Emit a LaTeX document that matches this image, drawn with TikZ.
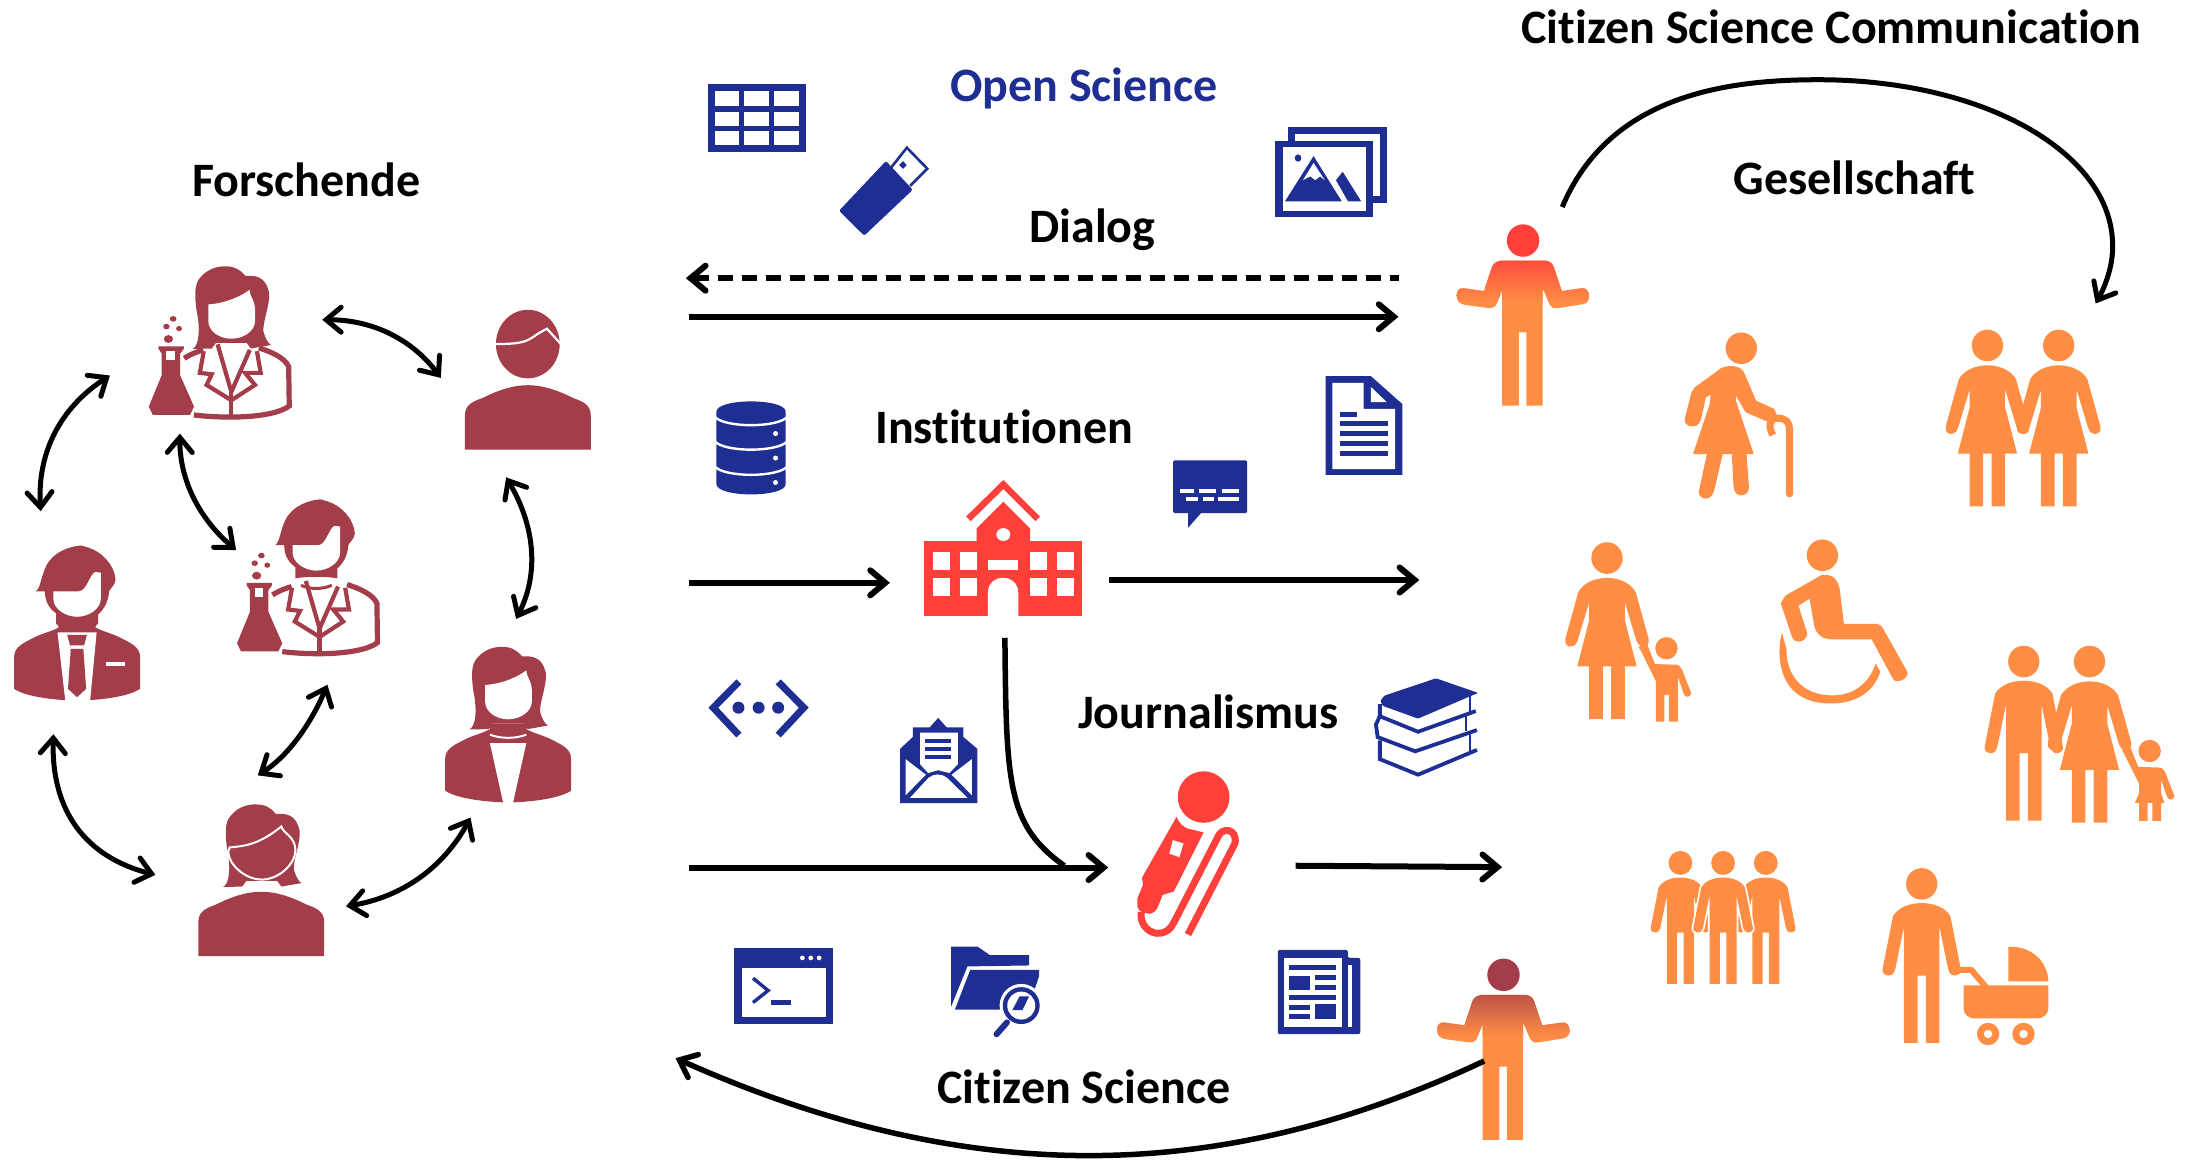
\documentclass[tikz,border=0pt]{standalone}
\usepackage{fontspec}
\setmainfont{Carlito}[Ligatures=NoCommon]
\usetikzlibrary{arrows.meta,calc}
\definecolor{blueC}{HTML}{1F2E93}
\definecolor{redC}{HTML}{FF3F3A}
\definecolor{orangeC}{HTML}{FF8D44}
\definecolor{maroonC}{HTML}{A23D49}
\tikzset{
 lbl/.style={anchor=base,inner sep=0pt,font=\fontsize{48}{52}\selectfont\bfseries},
 tipA/.tip={Straight Barb[length=15pt,width=25pt,line cap=round]},
 dbl/.style={line width=5pt,{tipA}-{tipA}},
 arr/.style={line width=6pt,-{tipA}},
 arl/.style={line width=6pt,{tipA}-},
 coat/.style={maroonC,line width=5.2pt,line join=miter},
 coatb/.style={maroonC,line width=4.2pt,line join=miter},
}
% ---------- maroon people ----------
\newcommand\ladyhair{\fill[maroonC] (-27.7,24.3) .. controls (-23,22) and (-22,10) .. (-24.9,-3.5) .. controls (-26,-12) and (-27,-22) .. (-22,-27) .. controls (-16,-34) and (-8,-35) .. (-4,-34.7) .. controls (2,-35) and (7,-32) .. (10,-28) .. controls (16,-28) and (24,-29) .. (27,-16) .. controls (28,-8) and (22,6) .. (23,12) .. controls (24,16) and (26,20) .. (28.3,21.5) -- (14,24) -- (11,20) -- (-11,20) -- (-14,24) -- cycle;}
\newcommand\ladyfacepath{(-16.5,-7.5) .. controls (-3,-8.5) and (8,-14) .. (13,-18) .. controls (13,-13) and (17,-11) .. (17,-3) -- (17,4) .. controls (17,12) and (8,17) .. (0,17) .. controls (-8,17) and (-16.5,12) .. (-16.5,4) -- cycle}
\newcommand\ladyhead{\ladyhair\fill[white] \ladyfacepath;}
\newcommand\manhead{\fill[maroonC] (-29.5,-1.7) .. controls (-26,-4) and (-26,-12) .. (-22,-20) .. controls (-17,-30) and (-5,-34) .. (3,-34.5) -- (8,-33) .. controls (18,-30) and (27,-20) .. (27.5,-10) .. controls (27,-6) and (24,-4) .. (23,-2) .. controls (22,8) and (18,12) .. (15,15) -- (15,22) .. controls (6,20.5) and (-6,20.5) .. (-15,22) -- (-15,14) .. controls (-21,10) and (-23,4) .. (-23,-1.7) -- cycle;
 \fill[white] (-17,-1.7) -- (1.4,-1.7) .. controls (7,-2) and (9,-14) .. (13,-15.5) -- (17,-15) -- (17,3.5) .. controls (17,11) and (8,16.5) .. (0,16.5) .. controls (-8,16.5) and (-17,11) .. (-17,3.5) -- cycle;}
\newcommand\suitbust{\fill[maroonC] (-45,50) -- (-45,45) .. controls (-45,38) and (-38,35) .. (-30,31) .. controls (-24,28) and (-18,27) .. (-13,24) -- (-15,20) -- (15,20) -- (13,24) .. controls (18,27) and (24,28) .. (30,31) .. controls (38,35) and (45,38) .. (45,45) -- (45,68) .. controls (38,73) and (20,76) .. (0,76.5) .. controls (-20,76) and (-38,73) .. (-45,68) -- cycle;}
\newcommand\plainbust[2]{\fill[maroonC,shift={(#1,#2)}] (-45,46) -- (-45,22) .. controls (-45,14) and (-40,12) .. (-32,9) .. controls (-20,3) and (-10,0) .. (0,0) .. controls (10,0) and (20,3) .. (32,9) .. controls (40,12) and (45,14) .. (45,22) -- (45,46) -- cycle;}
\newcommand\labbody{%
 \fill[maroonC] (-41.6,2.8) ellipse [x radius=2.4,y radius=2];
 \fill[maroonC] (-46.4,8.3) ellipse [x radius=2.3,y radius=2];
 \fill[maroonC] (-37.4,9.7) ellipse [x radius=2.1,y radius=1.9];
 \fill[maroonC] (-45,17.2) ellipse [x radius=3.3,y radius=2.8];
 \fill[maroonC] (-52.2,22.4) -- (-33.9,22.4) -- (-33.9,24) -- (-36.6,27.6) -- (-36.6,43.1) -- (-26.7,65.5) -- (-29.5,71.4) -- (-56.2,71.4) -- (-59,65.5) -- (-49.8,43.1) -- (-49.8,27.6) -- (-52.2,24) -- cycle;
 \fill[white] (-46.4,25.9) rectangle (-40.2,32.1);
 \draw[coat] (-33.7,31) .. controls (-29,28) and (-25,26.5) .. (-20,25);
 \draw[coat] (19.7,23.5) .. controls (27,26) and (38,30) .. (41,37) -- (41.4,65) .. controls (34,71) and (15,73) .. (0,73) .. controls (-9,73) and (-18,72.6) .. (-26.7,71.5);
 \draw[coatb] (-9.8,21) -- (0,55) -- (13.2,25);
 \draw[coatb] (-19.7,25.9) -- (-22.5,41.4) -- (-14,42.4) -- (-17.7,50) -- (0,61) -- (16.9,50) -- (9.8,41.4) -- (21,41.4) -- (18.3,25.9);
 \draw[coatb] (0,55) -- (0,73);
}
% ---------- orange people ----------
\newcommand\headO[1]{\fill[orangeC] #1 ellipse [x radius=11.2,y radius=11.3];}
\newcommand\dresswoman[2]{\begin{scope}[shift={(#1,#2)}]\headO{(0,0)}
 \fill[orangeC] (0,14.2) .. controls (-9,14.2) and (-17,18) .. (-20.5,24.3) -- (-29.8,57.8) .. controls (-30.5,62) and (-28,63.5) .. (-25.6,63.2) .. controls (-23,63) and (-21.5,61) .. (-21,59) -- (-12.7,31.4) -- (-12.7,44.3) -- (-21.2,77.4) -- (-12.7,77.4) -- (-12.7,115.1) -- (-3,115.1) -- (-3,77.4) -- (3,77.4) -- (3,115.1) -- (12.7,115.1) -- (12.7,77.4) -- (21.2,77.4) -- (12.7,44.3) -- (12.7,31.4) -- (21,59) .. controls (21.5,61) and (23,63) .. (25.6,63.2) .. controls (28,63.5) and (30.5,62) .. (29.8,57.8) -- (20.5,24.3) .. controls (17,18) and (9,14.2) .. (0,14.2) -- cycle;
 \end{scope}}
\newcommand\manpath{(0,13.7) .. controls (-9,13.7) and (-17,17) .. (-20.5,23) -- (-28,61) .. controls (-28.5,64) and (-26,65.5) .. (-23.5,65.5) .. controls (-21,65.5) and (-19.5,63.5) .. (-19,61.3) -- (-12.7,30.7) -- (-12.7,113.7) -- (-3,113.7) -- (-3,65.5) -- (3,65.5) -- (3,113.7) -- (12.7,113.7) -- (12.7,30.7) -- (19,61.3) .. controls (19.5,63.5) and (21,65.5) .. (23.5,65.5) .. controls (26,65.5) and (28.5,64) .. (28,61) -- (20.5,23) .. controls (17,17) and (9,13.7) .. (0,13.7) -- cycle}
\newcommand\manO[2]{\begin{scope}[shift={(#1,#2)}]\headO{(0,0)}
 \fill[orangeC] \manpath;
 \end{scope}}
\newcommand\manOutlined[2]{\begin{scope}[shift={(#1,#2)}]
 \fill[orangeC,preaction={draw=white,line width=3.4pt}] \manpath;
 \headO{(0,0)}\end{scope}}
\newcommand\childO[3]{\begin{scope}[shift={(#1,#2)}]
 \fill[orangeC] (0,0) ellipse [x radius=8,y radius=8];
 \fill[orangeC] (-14.4,-4.2) -- (-20,-0.7) -- (-19,0.5) -- (-7.5,23.6) #3 -- (8.2,20.5) -- (12.3,32.3) .. controls (13,35) and (16.5,36) .. (17.8,32.3) -- (12.3,18.2) .. controls (11,14) and (9,11.8) .. (7.2,11.8) -- (-8.2,11.3) -- cycle;
 \end{scope}}
\newcommand\shrug[4]{\begin{scope}[shift={(#1,#2)}]
 \fill[#3] (0,0) ellipse [x radius=11.6,y radius=11.6];
 \begin{scope}
 \clip (-16,14.4) .. controls (-20,15) and (-22,17) .. (-22.9,20.8) -- (-28,36.1) -- (-41.7,34.2) .. controls (-46,33.5) and (-47.5,36) .. (-47.5,39.6) .. controls (-47.5,43) and (-45,45.5) .. (-41.7,46) -- (-24.6,48.3) .. controls (-21,48.5) and (-19.5,47) .. (-18.5,44.3) -- (-15,35.4) -- (-15,118) -- (-3,118) -- (-3,65.6) -- (2.4,65.6) -- (2.4,118) -- (14,118) -- (14,35.4) -- (14.7,35.4) -- (19.2,46.2) .. controls (20.5,48) and (22,48.8) .. (25,48.3) -- (42.7,45.5) .. controls (45.5,45) and (47.2,43) .. (47.2,39.6) .. controls (47.2,36) and (45,33.5) .. (41.4,34.2) -- (27.7,36.1) -- (22.6,20.8) .. controls (21.5,17) and (20,15) .. (16.4,14.4) -- cycle;
 \fill[orangeC] (-50,10) rectangle (50,120);
 \shade[top color=#4,bottom color=orangeC] (-50,13) rectangle (50,44);
 \end{scope}
 \end{scope}}
\begin{document}
\begin{tikzpicture}[x=1.3986pt,y=-1.3986pt]
\useasboundingbox (0,0) rectangle (1568,828.7);
% ========= left: people =========
\begin{scope}[shift={(165.4,225.2)}]\ladyhead\labbody\end{scope}
\begin{scope}[shift={(228.5,394.4)}]\labbody\end{scope}
\begin{scope}[shift={(226.2,391.5)}]\manhead\draw[maroonC,line width=3pt] (-11,27) .. controls (-4,30) and (4,30) .. (11,27);\end{scope}
\fill[maroonC] (377.4,246) ellipse [x radius=22.8,y radius=24.5];
\draw[white,line width=2.2pt] (352,246) .. controls (372,246) and (376,245) .. (384,239) -- (391,235) -- (402,247);
\plainbust{377.4}{275.4}
\begin{scope}[shift={(363.3,497.3)}]\suitbust\ladyhead
 \draw[white,line width=2pt] (-13,28) .. controls (-5,31) and (5,31) .. (13,28);
 \fill[white] (-13,34) -- (13,34) -- (3.5,76.8) -- (-3.5,76.8) -- cycle;
\end{scope}
\begin{scope}[shift={(55.1,424.5)}]\suitbust\manhead
 \fill[white] (-14,27.6) -- (14,27.6) -- (9.3,76.8) -- (-8.4,76.8) -- cycle;
 \fill[maroonC] (-7,29.5) -- (7,29.5) -- (5,37) -- (-5,37) -- cycle;
 \fill[maroonC] (-4.5,39.5) -- (4.5,39.5) -- (6.5,68) -- (0,74) -- (-6.5,68) -- cycle;
 \fill[white] (21,48.5) rectangle (34,51.5);
\end{scope}
\begin{scope}[shift={(187.2,609.9)}]\ladyhair
 \fill[maroonC,draw=white,line width=2pt] (-23,-4) .. controls (-12,-5) and (-2,-6) .. (14,-19) .. controls (15,-14) and (24,-12) .. (24,-2) .. controls (24,8) and (12,19) .. (0,19) .. controls (-12,19) and (-24,8) .. (-24,-1) -- cycle;
\end{scope}
\plainbust{186.8}{637.6}
\coordinate (a1s) at (230.4,228.6); \coordinate (a1e) at (315.2,270.2);
\coordinate (a2s) at (78.6,268.5);  \coordinate (a2e) at (29.1,365.5);
\coordinate (a3s) at (128.6,310);   \coordinate (a3e) at (168.8,393.3);
\coordinate (a4s) at (361.9,341.3); \coordinate (a4e) at (369,442.5);
\coordinate (a5s) at (336.4,584.6); \coordinate (a5e) at (247.4,648);
\coordinate (a6s) at (234.1,489.6); \coordinate (a6e) at (184.3,554.4);
\coordinate (a7s) at (38.2,525);    \coordinate (a7e) at (111.1,625.5);
\draw[dbl] (a1s) .. controls ($(a1s)!.667!(284.2,228.6)$) and ($(a1e)!.667!(284.2,228.6)$) .. (a1e);
\draw[dbl] (a2s) .. controls ($(a2s)!.667!(25.3,303)$) and ($(a2e)!.667!(25.3,303)$) .. (a2e);
\draw[dbl] (a3s) .. controls ($(a3s)!.667!(128.3,358.6)$) and ($(a3e)!.667!(128.3,358.6)$) .. (a3e);
\draw[dbl] (a4s) .. controls ($(a4s)!.667!(393.4,394.7)$) and ($(a4e)!.667!(393.4,394.7)$) .. (a4e);
\draw[dbl] (a5s) .. controls ($(a5s)!.667!(307.5,638.1)$) and ($(a5e)!.667!(307.5,638.1)$) .. (a5e);
\draw[dbl] (a6s) .. controls ($(a6s)!.667!(214.8,535)$) and ($(a6e)!.667!(214.8,535)$) .. (a6e);
\draw[dbl] (a7s) .. controls ($(a7s)!.667!(35.6,606.3)$) and ($(a7e)!.667!(35.6,606.3)$) .. (a7e);
% ========= blue icons =========
\fill[blueC] (506,60.4) rectangle (576.3,109);
\foreach \xa/\xb in {511.2/528.5,532.3/549.6,553.4/571.1}
 \foreach \ya/\yb in {65.3/76,79.8/90,93.8/103.7}
  \fill[white] (\xa,\ya) rectangle (\xb,\yb);
\fill[blueC,rounded corners=2pt] (633.5,115.1) -- (652.6,135.7) -- (617.9,168.5) -- (599.9,150.7) -- cycle;
\draw[blueC,line width=2.6pt,line join=miter] (637,120) -- (648.4,105.6) -- (663,120.6) -- (650.8,132.9);
\fill[blueC] (645.6,115.2) -- (648.3,118) -- (645.6,120.8) -- (642.9,118) -- cycle;
\fill[blueC] (921.2,91.1) rectangle (991.6,145.2);
\fill[white] (926,95.8) rectangle (986.7,140.4);
\fill[blueC] (911.9,100.9) rectangle (981.9,154.8);
\fill[white] (917,105.3) rectangle (976.7,150.7);
\fill[blueC] (918.8,143.9) -- (959.3,143.9) -- (939.2,111.6) -- cycle;
\fill[white] (939.2,116.5) -- (931.6,128.8) -- (936.9,126.1) -- (940.4,128.8) -- (943.8,126.1) -- (947.2,128.8) -- cycle;
\fill[blueC] (955.2,128.8) -- (960,122.8) -- (973.2,143.9) -- (963.8,143.9) -- cycle;
\fill[blueC] (928.1,113) ellipse [x radius=2.4,y radius=2.6];
\fill[blueC] (512.2,294.5) .. controls (512.2,284.5) and (561.8,284.5) .. (561.8,294.5) -- (561.8,346) .. controls (561.8,356) and (512.2,356) .. (512.2,346) -- cycle;
\foreach \e/\c in {298/306,315.5/323.5,333.5/341.5}
 \draw[white,line width=2.4pt] (511,\e) .. controls (518,\c) and (556,\c) .. (563,\e);
\foreach \d in {310,327.5,345} \fill[white] (554.5,\d) circle [radius=1.8];
\fill[blueC] (947.9,268.9) -- (980.1,268.9) -- (1002.7,288.9) -- (1002.7,339.5) -- (947.9,339.5) -- cycle;
\fill[white] (952.7,273.8) -- (974.9,273.8) -- (974.9,292.4) -- (997.5,292.4) -- (997.5,335.4) -- (952.7,335.4) -- cycle;
\fill[white] (980.1,276.6) -- (980.1,287.5) -- (991.6,287.5) -- cycle;
\fill[blueC] (958.3,294.6) rectangle (970.4,298);
\foreach \d in {302.6,310,317.1,324.2} \fill[blueC] (958.3,\d-1.7) rectangle (992.3,\d+1.7);
\fill[blueC,rounded corners=1.5pt] (838.7,329.1) rectangle (891.7,366.9);
\fill[blueC] (849.5,366) -- (849.5,377.3) -- (859.5,366) -- cycle;
\foreach \a/\b in {843.9/853.6,857.1/869.2,873.7/885.9} \fill[white] (\a,349.6) rectangle (\b,352.4);
\foreach \a/\b in {848/856.4,859.9/868.2,871/885.9} \fill[white] (\a,355.6) rectangle (\b,358.4);
\draw[blueC,line width=7pt,line join=miter] (528.3,487.5) -- (510,506) -- (528.3,525.6);
\draw[blueC,line width=7pt,line join=miter] (556.4,487.5) -- (574.7,506) -- (556.4,525.6);
\foreach \d in {528,542.4,556.4} \fill[blueC] (\d,506) circle [radius=4.3];
\fill[blueC] (643.5,535.5) -- (652.7,526.9) -- (652.7,520) -- (664.8,520) -- (670.8,513.3) -- (676.8,520) -- (688.8,520) -- (688.8,526.9) -- (698.9,535.5) -- (698.9,574.3) -- (643.5,574.3) -- cycle;
\fill[white] (657.9,523.9) -- (684.8,523.9) -- (684.8,546.5) -- (678.8,552.7) -- (670.8,550.7) -- (663.6,552.7) -- (657.9,546.5) -- cycle;
\foreach \d in {529.8,535.5,541.1} \fill[blueC] (661.6,\d-1.3) rectangle (680,\d+1.3);
\fill[white] (647.5,542.8) -- (647.5,568.6) -- (662,553.9) -- cycle;
\fill[white] (694.9,542.8) -- (694.9,568.6) -- (680.4,553.9) -- cycle;
\fill[white] (650.7,570.4) -- (664,556) .. controls (668,553) and (673,553) .. (677,556) -- (691.7,570.4) -- cycle;
\fill[blueC,rounded corners=1pt] (1026.7,485) -- (1056.8,495.4) -- (1013.9,513.8) -- (988.6,504.7) -- (987,501) -- (989.8,497.4) -- cycle;
\draw[blueC,line width=3.8pt,line join=miter] (986.6,503.5) -- (986.6,512.1) -- (1013.9,523.2) -- (1055.2,508.4);
\draw[blueC,line width=3.8pt,line join=miter] (986.6,512) -- (983.8,518) -- (985,527) -- (1011.9,537.2) -- (1056,522);
\draw[blueC,line width=3.8pt,line join=miter] (986.6,529.3) -- (986.6,542.8) -- (1013.9,553.9) -- (1056,536.2);
\draw[blueC,line width=2.4pt] (1051.2,497) -- (1051.2,510);
\draw[blueC,line width=2.4pt] (1048,511) -- (1048,523);
\draw[blueC,line width=2.4pt] (1051.2,524) -- (1051.2,537);
\fill[blueC] (525.1,678) rectangle (595.8,732.3);
\fill[white] (530.3,692) rectangle (590.5,727.2);
\foreach \d in {573.7,579.7,585.7} \fill[white] (\d,684.9) circle [radius=1.7];
\draw[blueC,line width=3.4pt,line join=miter] (538.4,699.4) -- (549.2,708.2) -- (538.4,716.8);
\fill[blueC] (551.2,714.9) rectangle (565.7,718.6);
\fill[blueC] (680,676.8) -- (698.9,676.8) -- (707.7,682.9) -- (735.8,682.9) -- (735.8,690.3) -- (691.7,691) -- (680,719.8) -- cycle;
\fill[blueC] (693.7,693.5) -- (743,693.5) -- (743,697.7) -- (735,721.8) -- (682.8,721.8) -- cycle;
\fill[white] (730.2,719) circle [radius=15.5];
\fill[blueC] (730.2,719) circle [radius=13.2];
\fill[white] (730.2,719) circle [radius=10];
\fill[blueC] (729,712.4) -- (735.8,712.4) -- (731,722.3) -- (723.8,722.3) -- cycle;
\draw[blueC,line width=6pt,line cap=round] (720,731) -- (712.5,739.5);
\fill[blueC,rounded corners=2pt] (913.6,679.2) -- (963.7,679.2) -- (963.7,684.9) -- (972.6,684.9) -- (972.6,739.4) -- (913.6,739.4) -- cycle;
\fill[white] (918.4,684.9) rectangle (959.7,734);
\fill[white] (963.7,690.3) rectangle (967,734);
\fill[blueC] (921.6,689.8) rectangle (954.9,693.2);
\fill[blueC] (921.6,697.7) rectangle (936.4,707.5);
\fill[blueC] (940.4,697.2) rectangle (954.9,700.6);
\fill[blueC] (940.4,704.1) rectangle (954.9,707.5);
\fill[blueC] (921.6,711.4) rectangle (954.9,714.8);
\fill[blueC] (921.6,718.6) rectangle (936.4,722);
\fill[blueC] (921.6,725) rectangle (936.4,728.4);
\fill[blueC] (940.4,718) rectangle (954.9,728.4);
% ========= red icons =========
\fill[redC] (660.6,386.8) rectangle (773.9,440.2);
\fill[redC] (698.3,388) -- (698.3,377.8) -- (717.4,358.7) -- (736.5,377.8) -- (736.5,388) -- cycle;
\draw[redC,line width=6.5pt,line join=miter] (692.4,371) -- (717.4,346.4) -- (742,371);
\fill[white] (717.4,382.2) ellipse [x radius=5,y radius=4.6];
\foreach \a/\b in {667.1/679.6,686.2/698.3,736.5/748.6,755.5/767.7}{
 \fill[white] (\a,394.8) rectangle (\b,407.4);
 \fill[white] (\a,413.4) rectangle (\b,426.2);}
\fill[white] (706.3,400.5) rectangle (728.1,407.4);
\fill[white] (706.3,440.4) -- (706.3,424) .. controls (706.3,409.5) and (728.1,409.5) .. (728.1,424) -- (728.1,440.4) -- cycle;
\fill[redC] (860.6,569.9) ellipse [x radius=18.5,y radius=18.4];
\fill[redC] (841.3,583.9) .. controls (843,589) and (846,591) .. (849.4,592.5) -- (860.6,595.2) -- (839.3,637.4) -- (831.3,639.9) -- (827.3,649.7) .. controls (825,653) and (822,654) .. (820,653) .. controls (815,652) and (813.2,651) .. (813.2,646) -- (813.2,642.4) -- (817.3,632.5) -- (816.5,627.6) -- cycle;
\fill[white] (838.5,600.6) -- (846.2,603.1) -- (843.3,612.9) -- (836.1,610.4) -- cycle;
\draw[redC,line width=7pt] (849.4,668.2) -- (883,603) .. controls (885,592) and (873,591) .. (870.5,599) -- (839.3,659.6) .. controls (835,669) and (825,669) .. (820,664) .. controls (816,660) and (815.5,656) .. (816,652);
% ========= orange people =========
\shrug{1089}{172}{redC}{redC!85!orangeC}
\shrug{1075}{697}{maroonC}{maroonC!75!orangeC}
\begin{scope}[shift={(1245,249)}]
 \headO{(0,0)}
 \fill[orangeC] (-8.9,12.7) -- (-14,13.9) -- (-33.5,28.1) -- (-35.6,31.6) -- (-40.4,50.5) .. controls (-41,54) and (-38,55.9) .. (-34.5,55.9) .. controls (-31,55.9) and (-29.5,53) .. (-28.7,50.5) -- (-25.3,35.1) -- (-21.9,33.3) -- (-22.6,39.9) -- (-34.5,75.7) -- (-24.6,75.7) -- (-30.1,101.2) .. controls (-31,106) and (-28,107.5) .. (-25,107.5) .. controls (-22,107.5) and (-20,104) .. (-19.2,101.2) -- (-13.3,75.7) -- (-6.8,75.7) -- (-5.5,99.3) .. controls (-5,103) and (-3,105.2) .. (-0.3,105.2) .. controls (3,105.2) and (5.5,103) .. (5.5,99.3) -- (3.8,75.7) -- (8.9,75.7) -- (-3.8,37.5) -- (-3.8,34) -- (3.1,45.8) -- (18.5,52.4) -- (26,49.3) -- (23.6,43.4) -- (10.6,37.5) -- (3.1,19.8) .. controls (1.5,15) and (-1,12.7) .. (-8.9,12.7) -- cycle;
 \draw[orangeC,line width=7pt] (22.6,62) .. controls (19,56) and (20,50) .. (26,50) .. controls (32,50) and (34.5,53) .. (34.5,58) -- (34.5,104);
 \fill[orangeC] (34.5,104) circle [radius=2.6];
\end{scope}
\dresswoman{1421}{247}
\dresswoman{1472}{247}
\dresswoman{1149}{399}
\childO{1191.5}{463.5}{-- (-7.5,52.4) -- (-1.4,52.4) -- (-1.4,33.5) -- (2,33.5) -- (2,52.4) -- (8.2,52.4)}
\begin{scope}[shift={(1303,397)}]
 \headO{(0,0)}
 \fill[orangeC] (-0.7,14.2) -- (-26.3,28.8) -- (-29.8,34.2) -- (-21.9,57.8) .. controls (-21,61) and (-19,61.8) .. (-16.8,61.8) .. controls (-13,61.8) and (-10.5,58) .. (-10.9,55.4) -- (-17.1,36.1) -- (-9.2,31.1) -- (-5.8,50.7) .. controls (-5,54) and (-2,60.1) .. (6.2,60.1) -- (35.2,60.1) -- (49.9,87.3) .. controls (51,90) and (53,90.5) .. (55.1,89.9) .. controls (58.5,89) and (61.5,86.5) .. (60.9,83.7) -- (43.8,53.1) .. controls (42,50) and (41,49.1) .. (38.6,49.1) -- (15.4,49.1) -- (12.3,23.6) .. controls (11.5,19) and (8,14.2) .. (4,14.2) -- cycle;
 \fill[orangeC] (-29,55.4) .. controls (-33,70) and (-33,106) .. (6,106) .. controls (25,106) and (37,97) .. (41.4,83.3) -- (38,77.4) .. controls (34,90) and (24,100.2) .. (7,100.2) .. controls (-15,100.2) and (-26,85) .. (-25.6,67.2) -- cycle;
\end{scope}
\manO{1447}{473}
\dresswoman{1494}{473}
\childO{1537}{537}{-- (-7.5,30) -- (-10.5,37) -- (-7.5,37) -- (-7.5,50) -- (-1.4,50) -- (-1.4,37) -- (2,37) -- (2,50) -- (8.2,50) -- (8.2,37) -- (10.5,37) -- (8.2,30)}
\begin{scope}[shift={(1201.5,617)},scale=.76]\manO{0}{0}\end{scope}
\begin{scope}[shift={(1262.5,617)},scale=.76]\manO{0}{0}\end{scope}
\begin{scope}[shift={(1232,617)},scale=.76]\manOutlined{0}{0}\end{scope}
\manO{1374}{632}
\begin{scope}[shift={(1374,632)}]
 \fill[orangeC] (61.9,45) .. controls (78,44) and (90,55) .. (90.6,69.6) -- (61.9,69.6) -- cycle;
 \draw[orangeC,line width=6pt,line join=round] (26,61.5) -- (35.5,61.5) -- (47,75);
 \fill[orangeC] (30,72.6) -- (90.6,72.6) -- (90.6,89) .. controls (90.6,93) and (87,96.2) .. (82.7,96.2) -- (38.3,96.2) .. controls (33,96.2) and (30,93) .. (30,89.2) -- cycle;
 \foreach \d in {47.5,72.8}{\fill[orangeC] (\d,107.3) circle [radius=8]; \fill[white] (\d,107.3) circle [radius=3];}
\end{scope}
% ========= connectors =========
\coordinate (d1) at (1000.2,198.9); \coordinate (d2) at (490.4,198.9);
\draw[arl,dash pattern=on 15pt off 9pt] (d2) -- (d1);
\coordinate (s1) at (492.4,226.5); \coordinate (s2) at (999.9,226.5);
\draw[arr] (s1) -- (s2);
\coordinate (i1) at (492.4,416.7); \coordinate (i2) at (636.3,416.7);
\draw[arr] (i1) -- (i2);
\coordinate (o1) at (793,414.7); \coordinate (o2) at (1014.8,414.7);
\draw[arr] (o1) -- (o2);
\coordinate (j1) at (492.6,620.3); \coordinate (j2) at (792.4,620.3);
\draw[arr] (j1) -- (j2);
\coordinate (k1) at (926.4,619); \coordinate (k2) at (1074,620);
\draw[arr] (k1) -- (k2);
\coordinate (c1) at (718.5,456); \coordinate (c2) at (761,619);
\draw[line width=5.5pt] (c1) .. controls (719.5,560) and (720,590) .. (c2);
\coordinate (g1) at (1117,148); \coordinate (g2) at (1498.4,217);
\draw[line width=5pt,-{tipA}] (g1) .. controls (1150,70) and (1230,57) .. (1300,57) .. controls (1420,57) and (1510,110) .. (1510.5,175) .. controls (1511,190) and (1505,205) .. (g2);
\coordinate (z1) at (1061.2,758.6); \coordinate (z2) at (483,756.6);
\draw[line width=5.5pt,-{tipA}] (z1) .. controls (870,848.8) and (690,848.8) .. (z2);
% ========= labels =========
\node[lbl] (forschende) at (219,140.3) {Forschende};
\node[lbl,text=blueC] (open) at (775,72.3) {Open Science};
\node[lbl] (dialog) at (781,173.5) {Dialog};
\node[lbl] (inst) at (718,316.8) {Institutionen};
\node[lbl] (journ) at (864,520.8) {Journalismus};
\node[lbl] (cit) at (775,788.8) {Citizen Science};
\node[lbl] (ges) at (1326,139.3) {Gesellschaft};
\node[lbl] (csc) at (1309.5,31.3) {Citizen Science Communication};
\end{tikzpicture}
\end{document}
